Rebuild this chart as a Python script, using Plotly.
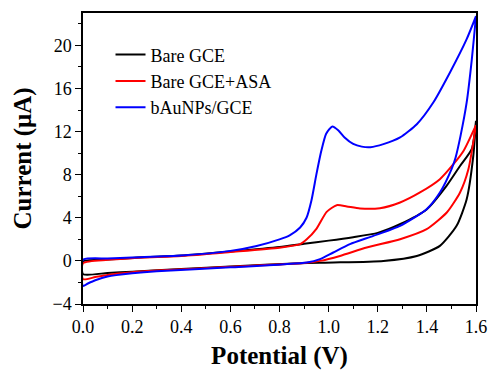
import plotly.graph_objects as go

# Bare GCE: forward (anodic) and reverse scans
bare_fwd_x = [0.0, 0.1, 0.2, 0.4, 0.6, 0.8, 0.9, 1.0, 1.1, 1.2, 1.29, 1.4, 1.48, 1.535, 1.583, 1.6]
bare_fwd_y = [-0.05, 0.12, 0.27, 0.5, 0.88, 1.3, 1.6, 1.88, 2.2, 2.6, 3.4, 4.8, 6.96, 8.81, 10.4, 13.0]
bare_rev_x = [1.6, 1.589, 1.562, 1.521, 1.453, 1.359, 1.223, 1.02, 0.884, 0.6, 0.4, 0.2, 0.1, 0.0, 0.0]
bare_rev_y = [13.0, 9.74, 5.72, 3.25, 1.39, 0.46, 0.0, -0.15, -0.21, -0.52, -0.75, -1.0, -1.12, -1.23, -0.05]

# Bare GCE + ASA
asa_fwd_x = [0.0, 0.1, 0.2, 0.4, 0.6, 0.8, 0.884, 0.911, 0.951, 0.992, 1.033, 1.074, 1.128, 1.209, 1.291, 1.372, 1.453, 1.508, 1.549, 1.6]
asa_fwd_y = [-0.21, 0.1, 0.25, 0.45, 0.82, 1.22, 1.55, 2.0, 3.0, 4.55, 5.17, 5.05, 4.86, 4.89, 5.42, 6.35, 7.58, 8.97, 10.2, 12.6]
asa_rev_x = [1.6, 1.569, 1.535, 1.481, 1.399, 1.291, 1.155, 1.046, 0.965, 0.9, 0.6, 0.3, 0.2, 0.1, 0.05, 0.0, 0.0]
asa_rev_y = [12.6, 8.5, 6.35, 4.49, 2.94, 2.01, 1.24, 0.46, 0.0, -0.2, -0.55, -0.9, -1.05, -1.3, -1.5, -1.7, -0.21]

# bAuNPs/GCE
bau_fwd_x = [0.0, 0.1, 0.2, 0.4, 0.6, 0.707, 0.8, 0.843, 0.884, 0.91, 0.93, 0.95, 0.97, 0.99, 1.015, 1.04, 1.065, 1.1, 1.135, 1.17, 1.223, 1.291, 1.359, 1.426, 1.494, 1.562, 1.6]
bau_fwd_y = [0.1, 0.22, 0.32, 0.5, 0.93, 1.39, 2.0, 2.4, 3.1, 4.0, 5.6, 8.0, 10.2, 11.8, 12.47, 12.1, 11.45, 10.85, 10.6, 10.55, 10.83, 11.45, 12.68, 14.69, 17.48, 20.57, 22.7]
bau_rev_x = [1.6, 1.583, 1.562, 1.537, 1.517, 1.5, 1.453, 1.399, 1.291, 1.182, 1.087, 1.019, 0.965, 0.911, 0.6, 0.3, 0.2, 0.1, 0.05, 0.02, 0.0, 0.0]
bau_rev_y = [22.7, 18.7, 14.7, 11.6, 9.6, 8.5, 6.35, 4.8, 3.25, 2.32, 1.55, 0.78, 0.16, -0.15, -0.6, -0.95, -1.15, -1.45, -1.8, -2.1, -2.32, 0.1]

names = ["Bare GCE", "Bare GCE+ASA", "bAuNPs/GCE"]
colors = ["#000000", "#ff0000", "#0000ff"]

x_ticks = [0.0, 0.2, 0.4, 0.6, 0.8, 1.0, 1.2, 1.4, 1.6]
y_ticks = [-4, 0, 4, 8, 12, 16, 20]

series = [
    (bare_fwd_x + bare_rev_x, bare_fwd_y + bare_rev_y),
    (asa_fwd_x + asa_rev_x, asa_fwd_y + asa_rev_y),
    (bau_fwd_x + bau_rev_x, bau_fwd_y + bau_rev_y),
]

fig = go.Figure()
for (xs, ys), n, c in zip(series, names, colors):
    fig.add_trace(go.Scatter(x=xs, y=ys, mode="lines", name=n,
                             line=dict(color=c, width=2, shape="spline", smoothing=0.6)))

font_family = "Liberation Serif, Times New Roman, serif"
axis_common = dict(showline=True, linecolor="black", linewidth=1.5, mirror=True,
                   ticks="outside", ticklen=6, tickwidth=1.2, tickcolor="black",
                   showgrid=False, zeroline=False, automargin=False,
                   tickfont=dict(family=font_family, size=18, color="black"))

fig.update_xaxes(range=[0, 1.6], tickvals=x_ticks, tickformat=".1f",
                 minor=dict(ticks="outside", ticklen=3, dtick=0.1, tickcolor="black"),
                 title=dict(text="<b>Potential (V)</b>", font=dict(family=font_family, size=25, color="black"), standoff=10),
                 **axis_common)
fig.update_yaxes(range=[-4, 23], tickvals=y_ticks,
                 minor=dict(ticks="outside", ticklen=3, dtick=2, tick0=0, tickcolor="black"),
                 title=dict(text="<b>Current (μA)</b>", font=dict(family=font_family, size=25, color="black"), standoff=14),
                 **axis_common)

fig.update_layout(
    width=490, height=370,
    margin=dict(l=83, r=14, t=13, b=66),
    plot_bgcolor="white", paper_bgcolor="white",
    showlegend=True,
    legend=dict(x=0.07, y=0.92, xanchor="left", yanchor="top",
                bgcolor="rgba(0,0,0,0)", font=dict(family=font_family, size=18, color="black"),
                tracegroupgap=0, itemwidth=30),
)

fig.write_html("out.html", config={"displayModeBar": False},
               post_script="document.body.style.margin='0';document.body.style.overflow='hidden';")
